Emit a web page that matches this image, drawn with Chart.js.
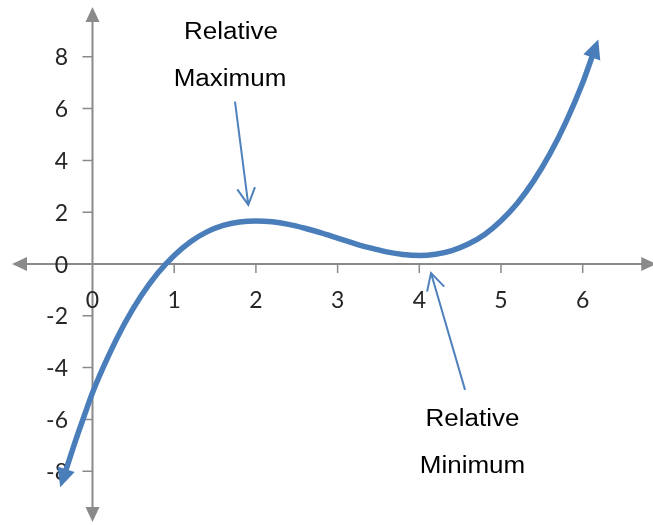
<!DOCTYPE html>
<html>
<head>
<meta charset="utf-8">
<script src="https://cdn.jsdelivr.net/npm/chart.js@4.4.0/dist/chart.umd.min.js"></script>
<style>
html,body{margin:0;padding:0;background:#ffffff;}
#wrap{width:653px;height:525px;position:relative;}
</style>
</head>
<body>
<div id="wrap"><canvas id="c" width="653" height="525"></canvas></div>
<script>
// ---- data ----
const curveX = [-0.33, -0.2, -0.1, 0, 0.2, 0.4, 0.6, 0.8, 1.0, 1.2, 1.4, 1.6, 1.8, 2.0, 2.2, 2.4, 2.6, 2.8, 3.0, 3.2, 3.4, 3.6, 3.8, 4.0, 4.2, 4.4, 4.6, 4.8, 5.0, 5.2, 5.4, 5.6, 5.8, 6.0, 6.12];
const curveY = [-8.0, -6.75, -5.85, -4.97, -3.52, -2.26, -1.21, -0.35, 0.33, 0.86, 1.24, 1.49, 1.62, 1.66, 1.63, 1.53, 1.38, 1.2, 1.0, 0.8, 0.62, 0.47, 0.37, 0.33, 0.38, 0.52, 0.77, 1.14, 1.67, 2.35, 3.21, 4.26, 5.52, 7.0, 8.05];
const xTickValues = [0, 1, 2, 3, 4, 5, 6];
const xTickLabels = ['0', '1', '2', '3', '4', '5', '6'];
const yTickValues = [8, 6, 4, 2, 0, -2, -4, -6, -8];
const yTickLabels = ['8', '6', '4', '2', '0', '-2', '-4', '-6', '-8'];
const maxLabelLines = ['Relative', 'Maximum'];
const minLabelLines = ['Relative', 'Minimum'];

// ---- layout / style (not data) ----
const AXIS_COLOR = '#8a8a8a';
const CURVE_COLOR = '#4a7ebb';
const ARROW_COLOR = '#4f81bd';
const axisExtent = { xFrom: -0.985, xTo: 6.9, yFrom: -9.96, yTo: 9.92 };
const annotations = {
  maxText: [{ x: 1.695, y: 8.68 }, { x: 1.683, y: 6.87 }],
  minText: [{ x: 4.651, y: -6.24 }, { x: 4.651, y: -8.06 }],
  maxArrow: { from: { x: 1.744, y: 6.27 }, to: { x: 1.907, y: 2.28 } },
  minArrow: { from: { x: 4.56, y: -4.86 }, to: { x: 4.143, y: -0.35 } }
};

function filledHead(ctx, tx, ty, ang, len, hw) {
  const bx = tx - Math.cos(ang) * len, by = ty - Math.sin(ang) * len;
  const nx = -Math.sin(ang), ny = Math.cos(ang);
  ctx.beginPath();
  ctx.moveTo(tx, ty);
  ctx.lineTo(bx + nx * hw, by + ny * hw);
  ctx.lineTo(bx - nx * hw, by - ny * hw);
  ctx.closePath();
  ctx.fill();
}

const axesPlugin = {
  id: 'customAxes',
  beforeDatasetsDraw(chart) {
    const { ctx, scales } = chart;
    const sx = scales.x, sy = scales.y;
    const x0 = sx.getPixelForValue(0), y0 = sy.getPixelForValue(0);
    const xl = sx.getPixelForValue(axisExtent.xFrom), xr = sx.getPixelForValue(axisExtent.xTo);
    const yt = sy.getPixelForValue(axisExtent.yTo), yb = sy.getPixelForValue(axisExtent.yFrom);
    ctx.save();
    ctx.strokeStyle = AXIS_COLOR;
    ctx.fillStyle = AXIS_COLOR;
    ctx.lineWidth = 2;
    ctx.beginPath();
    ctx.moveTo(xl + 12, y0); ctx.lineTo(xr - 12, y0);
    ctx.moveTo(x0, yt + 12); ctx.lineTo(x0, yb - 12);
    ctx.stroke();
    filledHead(ctx, xl, y0, Math.PI, 15, 7);
    filledHead(ctx, xr, y0, 0, 15, 7);
    filledHead(ctx, x0, yt, -Math.PI / 2, 15, 7);
    filledHead(ctx, x0, yb, Math.PI / 2, 15, 7);
    ctx.lineWidth = 1.5;
    ctx.beginPath();
    xTickValues.forEach(v => {
      if (v === 0) return;
      const px = sx.getPixelForValue(v);
      ctx.moveTo(px, y0); ctx.lineTo(px, y0 + 9);
    });
    yTickValues.forEach(v => {
      if (v === 0) return;
      const py = sy.getPixelForValue(v);
      ctx.moveTo(x0 - 10, py); ctx.lineTo(x0, py);
    });
    ctx.stroke();
    ctx.fillStyle = '#262626';
    ctx.font = '23px Lato, "Open Sans", sans-serif';
    ctx.textBaseline = 'alphabetic';
    ctx.textAlign = 'center';
    xTickValues.forEach((v, i) => {
      const px = sx.getPixelForValue(v);
      ctx.fillText(xTickLabels[i], px, y0 + 44);
    });
    ctx.textAlign = 'right';
    yTickValues.forEach((v, i) => {
      const py = sy.getPixelForValue(v);
      ctx.fillText(yTickLabels[i], 68, py + 8.5);
    });
    ctx.restore();
  },
  afterDatasetsDraw(chart) {
    const { ctx, scales } = chart;
    const sx = scales.x, sy = scales.y;
    const pts = chart.getDatasetMeta(0).data;
    ctx.save();
    ctx.fillStyle = CURVE_COLOR;
    const ends = [[pts[pts.length - 1], pts[pts.length - 2]], [pts[0], pts[1]]];
    ends.forEach(([a, b]) => {
      const ang = Math.atan2(a.y - b.y, a.x - b.x);
      const tx = a.x + Math.cos(ang) * 17, ty = a.y + Math.sin(ang) * 17;
      filledHead(ctx, tx, ty, ang, 19, 9);
    });
    ctx.strokeStyle = ARROW_COLOR;
    ctx.lineWidth = 2;
    [annotations.maxArrow, annotations.minArrow].forEach(ar => {
      const fx = sx.getPixelForValue(ar.from.x), fy = sy.getPixelForValue(ar.from.y);
      const tx = sx.getPixelForValue(ar.to.x), ty = sy.getPixelForValue(ar.to.y);
      const ang = Math.atan2(ty - fy, tx - fx);
      const spread = 28 * Math.PI / 180, len = 19;
      ctx.beginPath();
      ctx.moveTo(fx, fy); ctx.lineTo(tx, ty);
      ctx.moveTo(tx - Math.cos(ang - spread) * len, ty - Math.sin(ang - spread) * len);
      ctx.lineTo(tx, ty);
      ctx.lineTo(tx - Math.cos(ang + spread) * len, ty - Math.sin(ang + spread) * len);
      ctx.stroke();
    });
    ctx.fillStyle = '#000000';
    ctx.font = '23px "Liberation Sans", Arial, sans-serif';
    ctx.textAlign = 'center';
    ctx.textBaseline = 'alphabetic';
    const drawText = (t, p) => {
      ctx.save();
      ctx.translate(sx.getPixelForValue(p.x), sy.getPixelForValue(p.y));
      ctx.scale(1.13, 1);
      ctx.fillText(t, 0, 0);
      ctx.restore();
    };
    maxLabelLines.forEach((t, i) => drawText(t, annotations.maxText[i]));
    minLabelLines.forEach((t, i) => drawText(t, annotations.minText[i]));
    ctx.restore();
  }
};

const bgPlugin = {
  id: 'bg',
  beforeDraw(chart) {
    const { ctx, width, height } = chart;
    ctx.save();
    ctx.fillStyle = '#ffffff';
    ctx.fillRect(0, 0, width, height);
    ctx.restore();
  }
};

new Chart(document.getElementById('c'), {
  type: 'scatter',
  data: {
    datasets: [{
      data: curveX.map((v, i) => ({ x: v, y: curveY[i] })),
      showLine: true,
      borderColor: CURVE_COLOR,
      borderWidth: 5.5,
      pointRadius: 0,
      pointHoverRadius: 0,
      cubicInterpolationMode: 'monotone',
      fill: false,
      clip: false
    }]
  },
  options: {
    responsive: false,
    animation: false,
    events: [],
    layout: { padding: 0 },
    plugins: { legend: { display: false }, tooltip: { enabled: false } },
    scales: {
      x: { type: 'linear', min: -1.1322, max: 6.8605, display: false },
      y: { type: 'linear', min: -10.077, max: 10.193, display: false }
    }
  },
  plugins: [bgPlugin, axesPlugin]
});
</script>
</body>
</html>
